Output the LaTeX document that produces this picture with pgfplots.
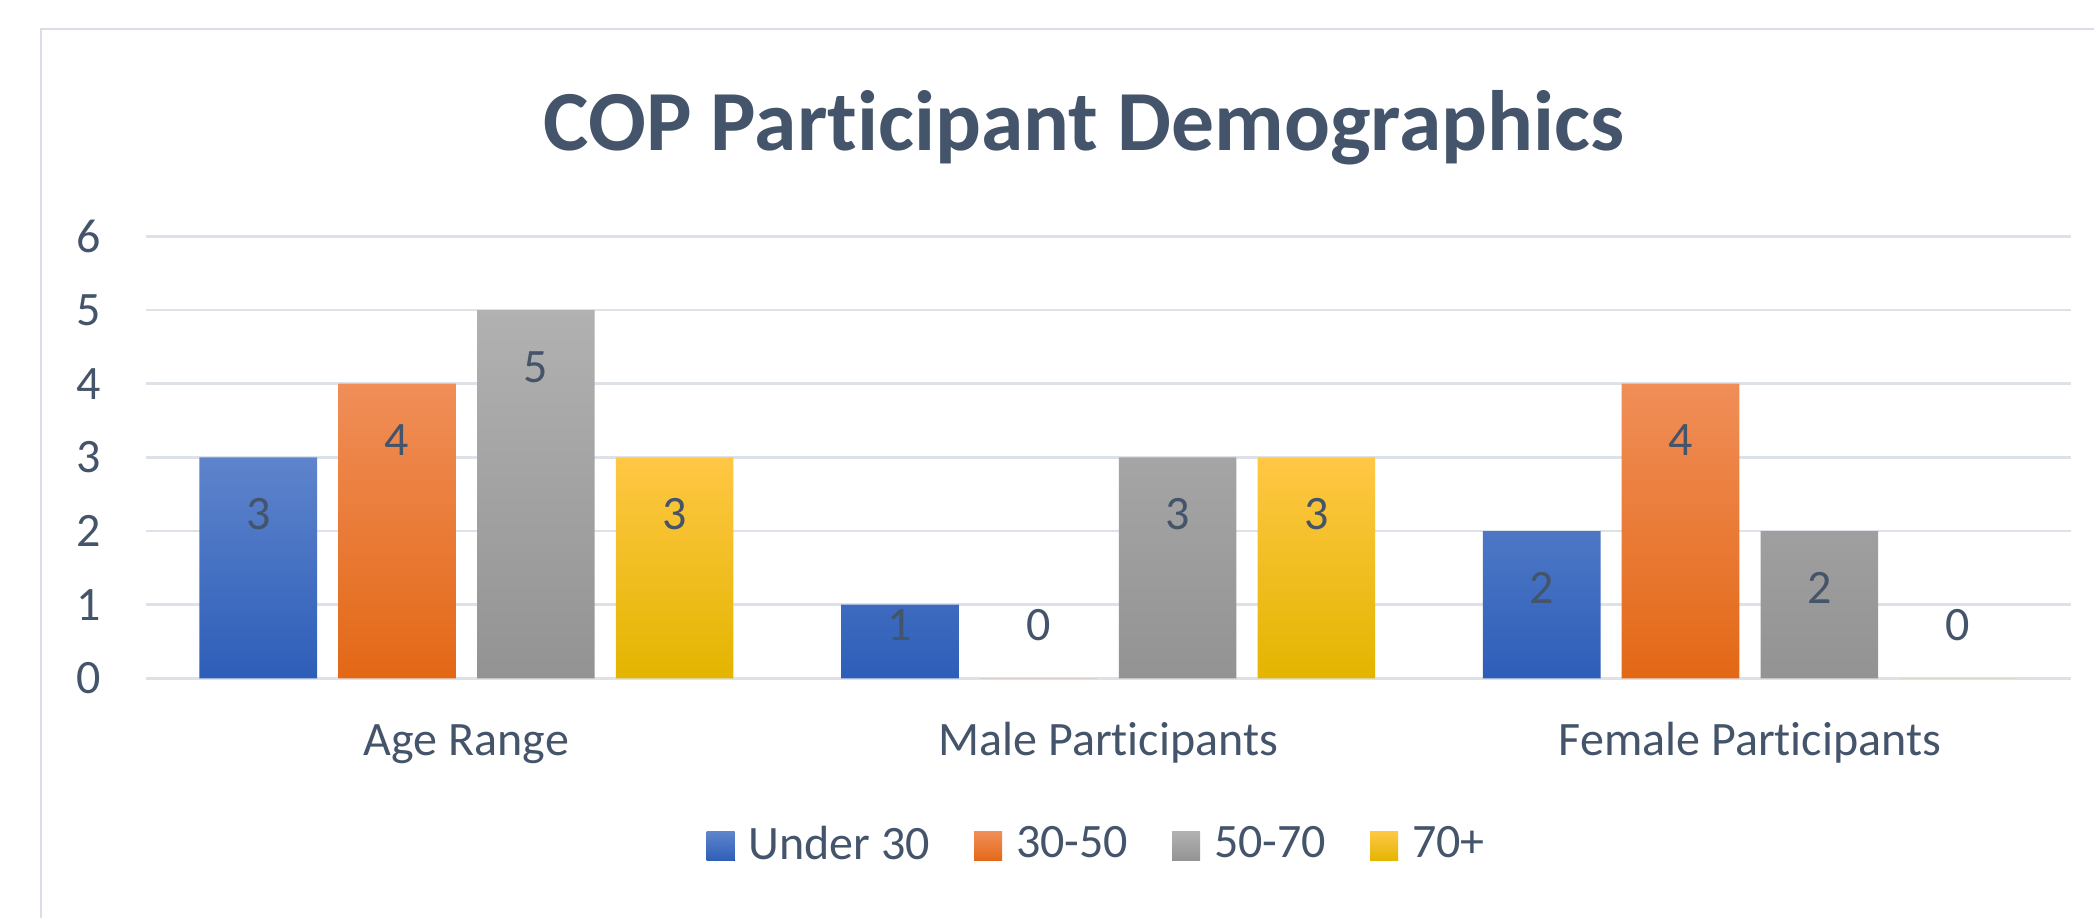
\documentclass[border=0pt]{standalone}
\usepackage{fontspec}
\setmainfont{Carlito}[RawFeature={-liga;-clig;-calt;-dlig}]
\usepackage{pgfplots}
\pgfplotsset{compat=1.18}
\newcommand{\Participant}{Part\kern0pt icipant}
\definecolor{txt}{HTML}{44546A}
\definecolor{gridc}{HTML}{DDE1E8}
\definecolor{framec}{HTML}{D9DEE6}
\definecolor{bluet}{HTML}{5E84CC}\definecolor{bluem}{HTML}{4472C4}\definecolor{blueb}{HTML}{2D5EB8}
\definecolor{oranget}{HTML}{F08E58}\definecolor{orangem}{HTML}{F47D2A}\definecolor{orangeb}{HTML}{E36816}
\definecolor{grayt}{HTML}{B1B1B1}\definecolor{graym}{HTML}{A5A5A5}\definecolor{grayb}{HTML}{939393}
\definecolor{yellowt}{HTML}{FFC744}\definecolor{yellowm}{HTML}{FCC300}\definecolor{yellowb}{HTML}{E3B500}
\begin{document}
\begin{tikzpicture}
\useasboundingbox (0,0) rectangle (523.5bp,229.5bp);
\fill[white] (0,0) rectangle (523.5bp,229.5bp);
\draw[framec, line width=0.7bp] (10.25bp,-2bp) -- (10.25bp,222.25bp) -- (526bp,222.25bp);
\node[anchor=base, text=txt, font=\bfseries\fontsize{21.4bp}{24bp}\selectfont, inner sep=0pt] at (271bp,191.75bp) {COP \Participant{} Demographics};
\begin{axis}[
  at={(36.4bp,59.9bp)}, anchor=south west,
  scale only axis, width=481.3bp, height=110.5bp,
  xmin=-0.5, xmax=2.5, ymin=0, ymax=6,
  ytick={0,1,2,3,4,5,6}, xtick={0,1,2},
  xticklabels={Age Range, Male \Participant s, Female \Participant s},
  axis line style={draw=none},
  major tick length=0pt,
  ymajorgrids, grid style={gridc, line width=0.7bp},
  ybar=5.3bp, bar width=29.4bp,
  tick label style={text=txt, font=\fontsize{12bp}{14bp}\selectfont},
  /pgf/number format/assume math mode=true,
  yticklabel style={anchor=east, xshift=-7.65bp},
  xticklabel style={anchor=mid, yshift=-17bp},
  nodes near coords,
  visualization depends on={rawy \as \rawy},
  every node near coord/.append style={anchor=center, text=txt, font=\fontsize{12bp}{14bp}\selectfont,
     yshift={(max(\rawy-0.77,0.725)-\rawy)*18.49pt}},
  legend columns=4,
  legend style={at={(axis description cs:0.4935,-0.3778)}, anchor=center, draw=none, fill=none,
     inner sep=0pt, outer sep=0pt, font=\fontsize{12bp}{14bp}\selectfont, text=txt,
     nodes={inner sep=0pt},
     /tikz/every odd column/.append style={column sep=3.5bp},
     /tikz/every even column/.append style={column sep=11bp}},
  legend image code/.code={\fill[#1] (0bp,-3.9bp) rectangle (7bp,3.4bp);},
]
\addplot[draw=none, top color=bluet, middle color=bluem, bottom color=blueb] coordinates {(0,3) (1,1) (2,2)};
\addplot[draw=none, top color=oranget, middle color=orangem, bottom color=orangeb] coordinates {(0,4) (1,0) (2,4)};
\addplot[draw=none, top color=grayt, middle color=graym, bottom color=grayb] coordinates {(0,5) (1,3) (2,2)};
\addplot[draw=none, top color=yellowt, middle color=yellowm, bottom color=yellowb] coordinates {(0,3) (1,3) (2,0)};
\legend{Under 30, 30-50, 50-70, 70+}
\end{axis}
\end{tikzpicture}
\end{document}
